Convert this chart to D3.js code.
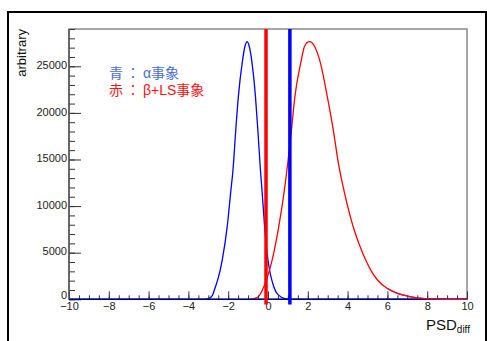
<!DOCTYPE html>
<html>
<head>
<meta charset="utf-8">
<script src="https://cdn.jsdelivr.net/npm/d3@7"></script>
<style>
  body { margin: 0; background: #fff; }
  svg { display: block; font-family: "Liberation Sans", Arial, sans-serif; }
</style>
</head>
<body>
<svg id="chart" width="487" height="341"></svg>
<script>
// values
const xTickLabels = [-10, -8, -6, -4, -2, 0, 2, 4, 6, 8, 10];
const yTickLabels = [0, 5000, 10000, 15000, 20000, 25000];

// blue: alpha events
const alphaX = [-10, -5, -3.2, -3.0, -2.8, -2.64, -2.5, -2.3, -2.05, -1.88, -1.76, -1.62, -1.49, -1.30, -1.15, -1.05,
  -0.95, -0.80, -0.63, -0.51, -0.38, -0.29, -0.17, 0.0, 0.29, 0.5, 0.9, 1.2, 5, 10];
const alphaY = [0, 0, 0, 60, 400, 1350, 2300, 4215, 7790, 11370, 13870, 18165, 21740, 25320, 27200, 27640,
  27200, 25320, 21740, 18165, 13870, 11370, 7790, 4215, 1350, 500, 50, 0, 0, 0];

// red: beta + LS events
const betaX = [-0.87, -0.5, -0.21, 0.21, 0.54, 0.80, 1.0, 1.18, 1.35, 1.64, 1.85, 2.08, 2.35, 2.64, 2.98, 3.28,
  3.53, 3.85, 4.05, 4.30, 4.6, 4.91, 5.2, 5.50, 6.0, 6.51, 7.0, 7.5, 8.0, 9.0, 10];
const betaY = [0, 250, 1350, 4220, 7790, 11370, 14700, 18170, 21740, 25320, 27200, 27640, 27100, 25320, 21740, 18170,
  14700, 11370, 9600, 7650, 5800, 4220, 3000, 2070, 1150, 640, 350, 150, 50, 0, 0];

// vertical cut lines
const cutX = [-0.1, 1.1];
const cutColors = ['#ff0000', '#0000ff'];

const margin = { left: 69, right: 20, top: 29, bottom: 41.7 };
const svg = d3.select('#chart');
const W = +svg.attr('width');
const H = +svg.attr('height');

const xScale = d3.scaleLinear().domain([-10, 10]).range([margin.left, W - margin.right]);
const yScale = d3.scaleLinear().domain([0, 29000]).range([H - margin.bottom, margin.top]);

// outer canvas frame
svg.append('rect')
  .attr('x', 8).attr('y', 12)
  .attr('width', W - 9).attr('height', H)
  .attr('fill', 'none')
  .attr('stroke', '#000')
  .attr('stroke-width', 2);

// plot frame
svg.append('rect')
  .attr('x', xScale(-10)).attr('y', yScale(29000))
  .attr('width', xScale(10) - xScale(-10))
  .attr('height', yScale(0) - yScale(29000))
  .attr('fill', 'none')
  .attr('stroke', '#8a8a8a')
  .attr('stroke-width', 1.5);

const line = d3.line()
  .x(d => xScale(d[0]))
  .y(d => yScale(d[1]))
  .curve(d3.curveMonotoneX);

svg.append('path')
  .datum(d3.zip(alphaX, alphaY))
  .attr('d', line)
  .attr('fill', 'none')
  .attr('stroke', '#0000ff')
  .attr('stroke-width', 1.3);

svg.append('path')
  .datum(d3.zip(betaX, betaY))
  .attr('d', line)
  .attr('fill', 'none')
  .attr('stroke', '#ff0000')
  .attr('stroke-width', 1.3);

// axes
svg.append('g')
  .attr('transform', `translate(0, ${yScale(0)})`)
  .call(d3.axisBottom(xScale).tickValues(xTickLabels).tickSize(-8).tickPadding(3).tickFormat(d3.format('d')));
svg.append('g')
  .attr('transform', `translate(0, ${yScale(0)})`)
  .call(d3.axisBottom(xScale).tickValues(d3.range(-10, 10.01, 0.5)).tickSize(-4).tickFormat(''));
svg.append('g')
  .attr('class', 'y-axis')
  .attr('transform', `translate(${xScale(-10)}, 0)`)
  .call(d3.axisLeft(yScale).tickValues(yTickLabels).tickSize(-12).tickPadding(2).tickFormat(d3.format('d')));
svg.append('g')
  .attr('transform', `translate(${xScale(-10)}, 0)`)
  .call(d3.axisLeft(yScale).tickValues(d3.range(0, 29001, 1000)).tickSize(-6).tickFormat(''));

svg.selectAll('.domain').remove();
svg.selectAll('.tick line').attr('stroke', '#333');
svg.selectAll('.tick text').attr('font-size', 11).attr('fill', '#222')
  .attr('font-family', '"Liberation Sans", Arial, sans-serif');
svg.selectAll('.y-axis .tick text').attr('dy', d => d === 0 ? '-0.05em' : '0.2em');

// axis lines
svg.append('line')
  .attr('x1', xScale(-10)).attr('x2', xScale(10))
  .attr('y1', yScale(0)).attr('y2', yScale(0))
  .attr('stroke', '#000080').attr('stroke-width', 1.6);
svg.append('line')
  .attr('x1', xScale(-10)).attr('x2', xScale(-10))
  .attr('y1', yScale(0)).attr('y2', yScale(29000))
  .attr('stroke', '#555').attr('stroke-width', 1.5);

// red tail over the baseline
svg.append('path')
  .datum(d3.zip(betaX, betaY).filter(d => d[0] >= 6))
  .attr('d', line)
  .attr('fill', 'none')
  .attr('stroke', '#e0103a')
  .attr('stroke-width', 1.3);

// cut lines
svg.selectAll('.cut')
  .data(cutX)
  .enter().append('line')
  .attr('class', 'cut')
  .attr('x1', d => xScale(d)).attr('x2', d => xScale(d))
  .attr('y1', yScale(29000)).attr('y2', yScale(-550))
  .attr('stroke', (d, i) => cutColors[i])
  .attr('stroke-width', 3.5);

// axis titles
svg.append('text')
  .attr('transform', `translate(26, ${yScale(29000)}) rotate(-90)`)
  .attr('text-anchor', 'end')
  .attr('font-size', 13)
  .attr('fill', '#111')
  .text('arbitrary');

const xt = svg.append('text')
  .attr('x', xScale(10) + 3)
  .attr('y', 330)
  .attr('text-anchor', 'end')
  .attr('font-size', 15)
  .attr('fill', '#111');
xt.append('tspan').text('PSD');
xt.append('tspan').attr('font-size', 10).attr('dy', 3).text('diff');

// legend notes: head, colon, rest
const notes = [
  { head: '青', rest: 'α事象', color: '#4a6fd0' },
  { head: '赤', rest: 'β+LS事象', color: '#ff1010' }
];
const noteText = svg.selectAll('.note')
  .data(notes)
  .enter().append('text')
  .attr('class', 'note')
  .attr('x', 109)
  .attr('y', (d, i) => 78 + i * 16.5)
  .attr('font-size', 14)
  .attr('font-family', '"Liberation Sans", "Noto Sans CJK JP", sans-serif')
  .attr('fill', d => d.color);
noteText.append('tspan').text(d => d.head);
noteText.append('tspan').attr('dx', 3).text('：');
noteText.append('tspan').attr('dx', 3).text(d => d.rest);
</script>
</body>
</html>
